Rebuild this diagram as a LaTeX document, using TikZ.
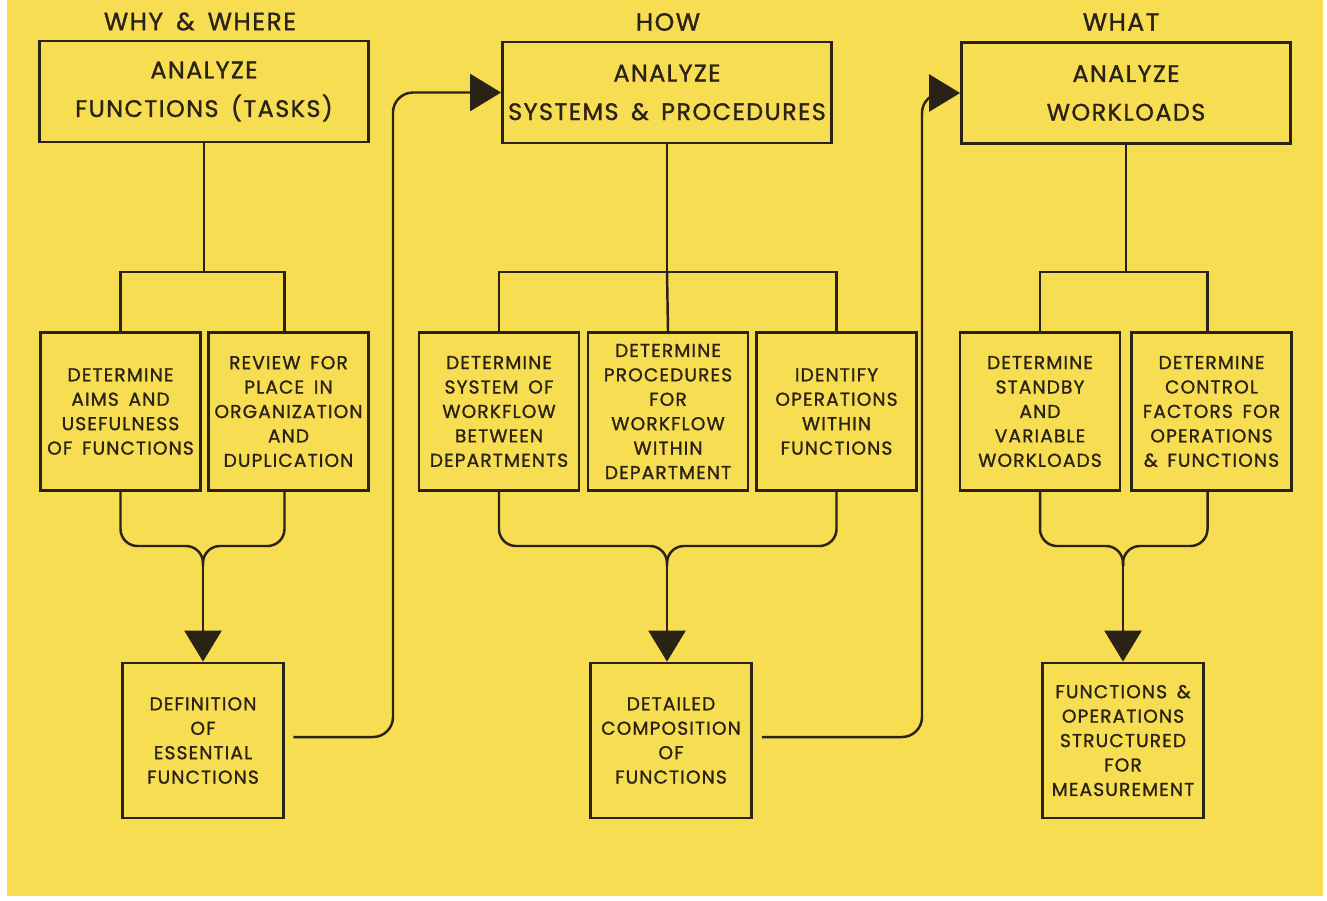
\documentclass[tikz,border=0pt]{standalone}
\usepackage{fontspec}
\setmainfont{Poppins}[WordSpace=1.6, LetterSpace=6, FakeBold=1.2]
\usepackage{tikz}
\usetikzlibrary{positioning, arrows.meta}
\definecolor{pageyellow}{RGB}{247,221,82}
\definecolor{inkbrown}{RGB}{42,34,22}

\begin{document}
\begin{tikzpicture}[
    head/.style={text=inkbrown, font=\fontsize{14.2}{18}\selectfont},
    phase/.style={
        rectangle,
        draw=inkbrown,
        line width=1.6pt,
        text=inkbrown,
        align=center,
        inner sep=1pt,
        minimum width=6.58cm,
        minimum height=2.02cm,
        font=\fontsize{13.6}{22}\selectfont,
    },
    task/.style={phase, minimum width=3.2cm, minimum height=3.16cm, font=\fontsize{10.6}{13.9}\selectfont},
    result/.style={task, minimum width=3.22cm, minimum height=3.1cm},
    wire/.style={draw=inkbrown, line width=1.4pt},
    merge/.style={wire, rounded corners=0.34cm},
    feed/.style={wire, -{Triangle[length=0.62cm, width=0.74cm]}},
    link/.style={feed, rounded corners=0.4cm}
]
\useasboundingbox (0,0) rectangle (26.54,-18);
\fill[white] (0,0) rectangle (26.54,-18);
\fill[pageyellow] (0.14,0) rectangle (26.46,-17.92);

\node[head] (why) at (4.0,-0.43) {WHY \& WHERE};
\node[head] (how) at (13.36,-0.44) {HOW};
\node[head] (what) at (22.42,-0.44) {WHAT};

\node[phase] (fnTop) at (4.08,-1.83) {ANALYZE\\FUNCTIONS (TASKS)};
\node[phase] (sysTop) at (13.34,-1.85) {ANALYZE\\SYSTEMS \& PROCEDURES};
\node[phase] (loadTop) at (22.52,-1.86) {ANALYZE\\WORKLOADS};

\node[task] (aims) at (2.41,-8.23) {DETERMINE\\AIMS AND\\USEFULNESS\\OF FUNCTIONS};
\node[task] (review) at (5.77,-8.23) {REVIEW FOR\\PLACE IN\\ORGANIZATION\\AND\\DUPLICATION};
\node[task] (between) at (9.98,-8.23) {DETERMINE\\SYSTEM OF\\WORKFLOW\\BETWEEN\\DEPARTMENTS};
\node[task] (within) at (13.36,-8.23) {DETERMINE\\PROCEDURES\\FOR\\WORKFLOW\\WITHIN\\DEPARTMENT};
\node[task] (identify) at (16.73,-8.23) {IDENTIFY\\OPERATIONS\\WITHIN\\FUNCTIONS};
\node[task] (standby) at (20.8,-8.23) {DETERMINE\\STANDBY\\AND\\VARIABLE\\WORKLOADS};
\node[task] (control) at (24.23,-8.23) {DETERMINE\\CONTROL\\FACTORS FOR\\OPERATIONS\\\& FUNCTIONS};

\node[result] (essential) at (4.06,-14.81) {DEFINITION\\OF\\ESSENTIAL\\FUNCTIONS};
\node[result] (composition) at (13.42,-14.81) {DETAILED\\COMPOSITION\\OF\\FUNCTIONS};
\node[result] (measure) at (22.46,-14.81) {FUNCTIONS \&\\OPERATIONS\\STRUCTURED\\FOR\\MEASUREMENT};

\coordinate (fnFork) at (4.08,-5.44);
\coordinate (sysFork) at (13.34,-5.44);
\coordinate (loadFork) at (22.52,-5.44);
\coordinate (fnBar) at (4.06,-10.92);
\coordinate (fnJoin) at (4.06,-11.32);
\coordinate (sysBar) at (13.34,-10.92);
\coordinate (sysJoin) at (13.34,-11.32);
\coordinate (loadBar) at (22.46,-10.92);
\coordinate (loadJoin) at (22.46,-11.32);
\coordinate (fnRise) at (7.86,-1.85);
\coordinate (sysRise) at (18.44,-1.86);

\draw[wire] (fnTop) -- (fnFork);
\draw[wire] (aims.north) |- (fnFork) -| ([xshift=-0.08cm]review.north);
\draw[wire] (sysTop) -- (sysFork);
\draw[wire] (between.north) |- (sysFork) -| (identify.north);
\draw[wire] (sysFork) -- (within.north);
\draw[wire] (loadTop) -- (loadFork);
\draw[wire] (standby.north) |- (loadFork) -| ([xshift=-0.08cm]control.north);

\draw[merge] (aims.south) |- (fnBar) -- (fnJoin);
\draw[merge] ([xshift=-0.08cm]review.south) |- (fnBar) -- (fnJoin);
\draw[feed] (fnJoin) -- (essential.north);
\draw[merge] (between.south) |- (sysBar) -- (sysJoin);
\draw[merge] (identify.south) |- (sysBar) -- (sysJoin);
\draw[feed] (sysJoin) -- (sysJoin |- composition.north);
\draw[merge] (standby.south) |- (loadBar) -- (loadJoin);
\draw[merge] ([xshift=-0.08cm]control.south) |- (loadBar) -- (loadJoin);
\draw[feed] (loadJoin) -- (measure.north);

\draw[link] ([xshift=0.17cm, yshift=0.07cm]essential.east) -| (fnRise) -- (sysTop.west);
\draw[link] ([xshift=0.18cm, yshift=0.07cm]composition.east) -| (sysRise) -- (loadTop.west);
\end{tikzpicture}
\end{document}
